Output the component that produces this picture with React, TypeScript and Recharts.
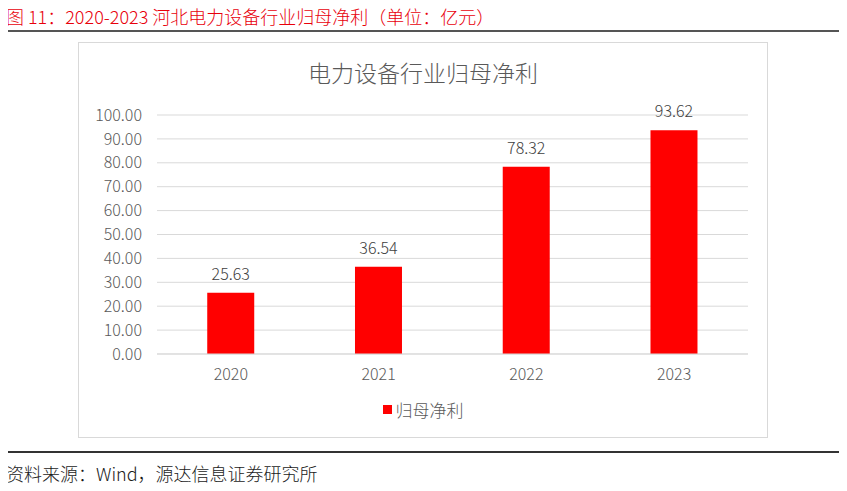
import React from "react";
import { BarChart, Bar, XAxis, YAxis, CartesianGrid, Legend, LabelList } from "recharts";

// Net profit attributable to parent, Hebei power-equipment sector (unit: 100M CNY)
const years: string[] = ["2020", "2021", "2022", "2023"];
const netProfit: number[] = [25.63, 36.54, 78.32, 93.62];
const yTicks: number[] = [0, 10, 20, 30, 40, 50, 60, 70, 80, 90, 100];

const seriesName = "归母净利";
const data = years.map((y, i) => ({ year: y, value: netProfit[i] }));

const FONT = '"Noto Sans CJK SC", "Noto Sans", sans-serif';
const AXIS_GRAY = "#595959";
const RED = "#ff0000";

const LegendContent = () => (
  <div
    style={{
      display: "flex",
      justifyContent: "center",
      alignItems: "center",
      fontFamily: FONT,
      fontSize: 17,
      fontWeight: 300,
      color: AXIS_GRAY,
    }}
  >
    <span style={{ width: 9, height: 9, background: RED, marginRight: 4, display: "inline-block" }} />
    <span>{seriesName}</span>
  </div>
);

export default function App() {
  return (
    <div
      style={{
        position: "relative",
        width: 847,
        height: 491,
        margin: -8,
        background: "#ffffff",
        fontFamily: FONT,
        overflow: "hidden",
      }}
    >
      <div
        style={{
          position: "absolute",
          left: 6,
          top: 3,
          fontSize: 18,
          fontWeight: 300,
          lineHeight: "26px",
          color: "#e8000b",
          whiteSpace: "nowrap",
        }}
      >
        图 11：2020-2023 河北电力设备行业归母净利（单位：亿元）
      </div>
      <div style={{ position: "absolute", left: 4, top: 30, width: 838, height: 2, background: "#555555" }} />

      <div
        style={{
          position: "absolute",
          left: 78,
          top: 42,
          width: 690,
          height: 396,
          border: "1px solid #d9d9d9",
          boxSizing: "border-box",
        }}
      >
        <div
          style={{
            position: "absolute",
            left: 0,
            top: 14,
            width: "100%",
            textAlign: "center",
            fontSize: 23,
            fontWeight: 300,
            lineHeight: "30px",
            color: AXIS_GRAY,
          }}
        >
          电力设备行业归母净利
        </div>
        <div style={{ position: "absolute", left: -1, top: -1 }}>
          <BarChart
            width={690}
            height={396}
            data={data}
            margin={{ top: 73, right: 20, bottom: 54, left: 0 }}
            barCategoryGap="34%"
          >
            <CartesianGrid vertical={false} stroke="#d9d9d9" strokeWidth={1} />
            <XAxis
              dataKey="year"
              height={30}
              tickLine={false}
              axisLine={{ stroke: "#d9d9d9" }}
              tickMargin={9}
              tick={{ fill: AXIS_GRAY, fontSize: 16, fontWeight: 300, fontFamily: FONT }}
            />
            <YAxis
              width={79}
              domain={[0, 100]}
              ticks={yTicks}
              tickFormatter={(v: number) => v.toFixed(2)}
              tickLine={false}
              axisLine={false}
              tickMargin={9}
              interval={0}
              tick={{ fill: AXIS_GRAY, fontSize: 16, fontWeight: 300, fontFamily: FONT }}
            />
            <Legend
              verticalAlign="middle"
              layout="horizontal"
              wrapperStyle={{ top: 355, left: 0, width: 690 }}
              content={<LegendContent />}
            />
            <Bar dataKey="value" name={seriesName} fill={RED} isAnimationActive={false}>
              <LabelList
                dataKey="value"
                position="top"
                offset={13}
                formatter={(v: number) => v.toFixed(2)}
                style={{ fill: "#404040", fontSize: 16, fontWeight: 300, fontFamily: FONT }}
              />
            </Bar>
          </BarChart>
        </div>
      </div>

      <div style={{ position: "absolute", left: 4, top: 451, width: 838, height: 1.5, background: "#333333" }} />
      <div
        style={{
          position: "absolute",
          left: 6,
          top: 460,
          fontSize: 18,
          fontWeight: 300,
          lineHeight: "26px",
          color: "#1a1a1a",
          whiteSpace: "nowrap",
        }}
      >
        资料来源：Wind，源达信息证券研究所
      </div>
    </div>
  );
}
